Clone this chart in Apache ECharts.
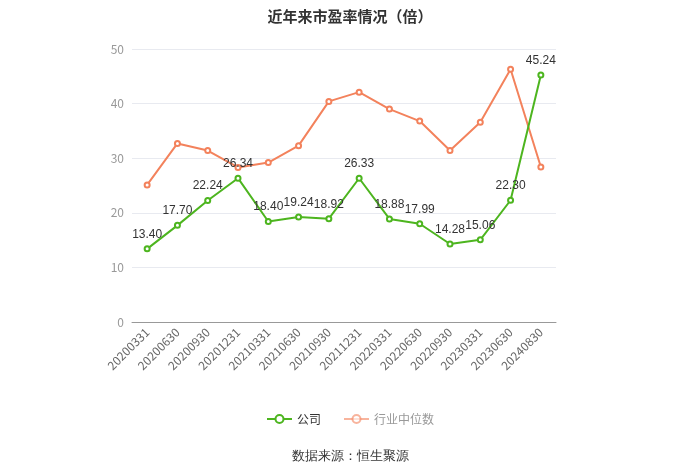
<!DOCTYPE html>
<html><head><meta charset="utf-8">
<script src="https://cdn.jsdelivr.net/npm/echarts@6/dist/echarts.min.js"></script>
<style>html,body{margin:0;padding:0;background:#fff}#c{width:700px;height:474px}</style>
</head><body><div id="c"></div>
<script>
const categories = ['20200331','20200630','20200930','20201231','20210331','20210630','20210930','20211231','20220331','20220630','20220930','20230331','20230630','20240830'];
const companyPE = [13.40,17.70,22.24,26.34,18.40,19.24,18.92,26.33,18.88,17.99,14.28,15.06,22.30,45.24];
const industryPE = [25.1,32.7,31.4,28.3,29.2,32.3,40.4,42.1,39.0,36.8,31.4,36.6,46.3,28.4];
const yTicks = [0,10,20,30,40,50];

const chart = echarts.init(document.getElementById('c'));
const font = "'Noto Sans CJK SC', 'Noto Sans', sans-serif";
chart.setOption({
  animation:false,
  title:{text:'近年来市盈率情况（倍）', left:'center', top:4, textStyle:{fontSize:15, fontWeight:'bold', color:'#333', fontFamily:font}},
  grid:{left:132, right:144, top:49, bottom:152},
  legend:{bottom:44, left:'center', itemWidth:25, itemHeight:10, itemGap:22,
    data:[{name:'公司', textStyle:{color:'#333'}},{name:'行业中位数', textStyle:{color:'#999'}, itemStyle:{opacity:0.6}, lineStyle:{opacity:0.6}}],
    textStyle:{fontSize:12, fontFamily:font}},
  graphic:[{type:'text', left:'center', top:450, style:{text:'数据来源：恒生聚源', fontSize:13, fill:'#333', font:"13px 'Noto Sans CJK SC'"}}],
  xAxis:{type:'category', data:categories, boundaryGap:true,
    axisLine:{lineStyle:{color:'#999'}}, axisTick:{alignWithLabel:true, lineStyle:{color:'#999'}},
    axisLabel:{rotate:45, color:'#666', fontSize:12, interval:0, fontFamily:font}},
  yAxis:{type:'value', min:yTicks[0], max:yTicks[yTicks.length-1], interval:10,
    axisLine:{show:false}, axisTick:{show:false},
    axisLabel:{color:'#999', fontSize:12, margin:8, fontFamily:font},
    splitLine:{lineStyle:{color:'#e8eaf0'}}},
  series:[
    {name:'公司', type:'line', data:companyPE, symbol:'emptyCircle', symbolSize:5,
      itemStyle:{color:'#4db51f'}, lineStyle:{width:2, color:'#4db51f'},
      label:{show:true, position:'top', color:'#333', fontSize:12, formatter:p=>p.value.toFixed(2), fontFamily:"'Liberation Sans', sans-serif"}, z:3},
    {name:'行业中位数', type:'line', data:industryPE, symbol:'emptyCircle', symbolSize:5,
      itemStyle:{color:'#f3825c'}, lineStyle:{width:2, color:'#f3825c'}, z:2}
  ]
});
</script></body></html>
